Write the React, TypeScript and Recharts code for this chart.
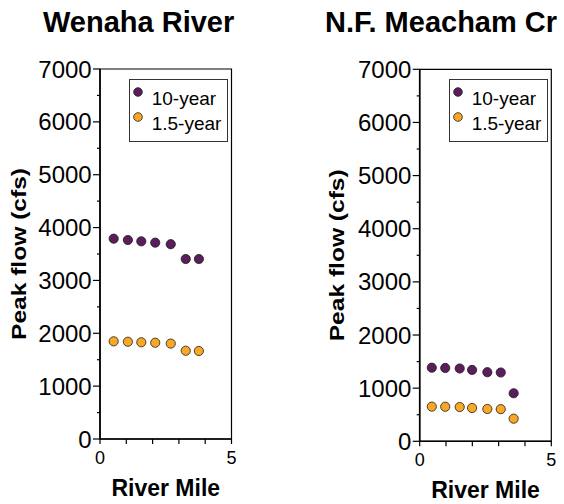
import React from "react";
import {
  ScatterChart,
  Scatter,
  XAxis,
  YAxis,
  Legend,
  Label,
  ReferenceArea,
} from "recharts";

const FONT = "'Liberation Sans', Arial, Helvetica, sans-serif";
const PURPLE = "#5c1d5c";
const ORANGE = "#f9a826";

// river mile of each site, peak flows in cfs
const wenahaMiles = [0.52, 1.06, 1.57, 2.1, 2.69, 3.26, 3.76];
const wenaha10yr = [3790, 3765, 3740, 3715, 3685, 3405, 3405];
const wenaha15yr = [1848, 1840, 1830, 1822, 1805, 1670, 1665];

const meachamMiles = [0.46, 0.97, 1.52, 1.99, 2.57, 3.08, 3.57];
const meacham10yr = [1385, 1380, 1370, 1343, 1300, 1295, 904];
const meacham15yr = [652, 650, 645, 627, 608, 605, 426];

const seriesNames = ["10-year", "1.5-year"];
const yTicks = [0, 500, 1000, 1500, 2000, 2500, 3000, 3500, 4000, 4500, 5000, 5500, 6000, 6500, 7000];
const xTicks = [0, 1, 2, 3, 4, 5];

const toPoints = (xs: number[], ys: number[]) => xs.map((x, i) => ({ x, y: ys[i] }));

const YTick = (props: any) => {
  const { x, y, payload } = props;
  const major = payload.value % 1000 === 0;
  return (
    <g>
      <line x1={x - (major ? 7 : 3)} x2={x} y1={y} y2={y} stroke="#000" strokeWidth={1.2} />
      {major && (
        <text x={x - 8.3} y={y + 8.6} textAnchor="end" fontSize={24} fontFamily={FONT} fill="#000">
          {payload.value}
        </text>
      )}
    </g>
  );
};

const XTick = (props: any) => {
  const { x, y, payload } = props;
  const labelled = payload.value === 0 || payload.value === 5;
  return (
    <g>
      <line x1={x} x2={x} y1={y} y2={y + 5} stroke="#000" strokeWidth={1.2} />
      {labelled && (
        <text x={x} y={y + 25} textAnchor="middle" fontSize={18} fontFamily={FONT} fill="#000">
          {payload.value}
        </text>
      )}
    </g>
  );
};

const dot = (fill: string) => (p: any) => (
  <circle cx={p.cx} cy={p.cy} r={4.6} fill={fill} stroke="#1a1a1a" strokeWidth={0.8} />
);

const renderLegend = (props: any) => {
  const entries = [...(props.payload || [])].sort(
    (a: any, b: any) => seriesNames.indexOf(a.value) - seriesNames.indexOf(b.value)
  );
  return (
    <svg width={99} height={63} style={{ display: "block" }}>
      <rect x={0.5} y={0.5} width={98} height={62} fill="#fff" stroke="#333" strokeWidth={1} />
      {entries.map((e: any, i: number) => (
        <g key={e.value}>
          <circle cx={9} cy={13 + 25 * i} r={4.3} fill={e.color} stroke="#1a1a1a" strokeWidth={0.8} />
          <text x={22.7} y={26 + 25 * i} fontSize={19} fontFamily={FONT} fill="#000">
            {e.value}
          </text>
        </g>
      ))}
    </svg>
  );
};

type PanelProps = {
  title: string;
  left: number;
  miles: number[];
  flow10: number[];
  flow15: number[];
  margin: { top: number; right: number; bottom: number; left: number };
  yAxisWidth: number;
  xAxisHeight: number;
  yLabelX: number;
  legendLeft: number;
  legendTop: number;
};

function Panel(p: PanelProps) {
  const yLabel = (lp: any) => {
    const vb = lp.viewBox;
    const cy = vb.y + vb.height / 2;
    const cx = vb.x + p.yLabelX;
    return (
      <text
        x={cx}
        y={cy}
        transform={`rotate(-90, ${cx}, ${cy})`}
        textAnchor="middle"
        dominantBaseline="central"
        fontSize={21}
        fontWeight="bold"
        fontFamily={FONT}
        textLength={172}
        lengthAdjust="spacingAndGlyphs"
        fill="#000"
      >
        Peak flow (cfs)
      </text>
    );
  };
  const xLabel = (lp: any) => {
    const vb = lp.viewBox;
    return (
      <text
        x={vb.x + vb.width / 2}
        y={vb.y + 57}
        textAnchor="middle"
        fontSize={23}
        fontWeight="bold"
        fontFamily={FONT}
        fill="#000"
      >
        River Mile
      </text>
    );
  };

  return (
    <div style={{ position: "absolute", left: p.left, top: 0, width: 282, height: 504 }}>
      <div
        style={{
          position: "absolute",
          left: 43,
          top: 5,
          fontFamily: FONT,
          fontWeight: "bold",
          fontSize: 29,
          lineHeight: "34px",
          whiteSpace: "nowrap",
        }}
      >
        {p.title}
      </div>
      <ScatterChart width={282} height={504} margin={p.margin}>
        <XAxis
          type="number"
          dataKey="x"
          domain={[0, 5]}
          ticks={xTicks}
          interval={0}
          tickSize={0}
          tickMargin={0}
          tick={<XTick />}
          height={p.xAxisHeight}
          axisLine={{ stroke: "#000", strokeWidth: 1.6 }}
          tickLine={false}
        >
          <Label content={xLabel} />
        </XAxis>
        <YAxis
          type="number"
          dataKey="y"
          domain={[0, 7000]}
          ticks={yTicks}
          interval={0}
          tickSize={0}
          tickMargin={0}
          tick={<YTick />}
          width={p.yAxisWidth}
          axisLine={{ stroke: "#000", strokeWidth: 1.6 }}
          tickLine={false}
        >
          <Label content={yLabel} />
        </YAxis>
        <ReferenceArea
          x1={0}
          x2={5}
          y1={0}
          y2={7000}
          fill="none"
          fillOpacity={0}
          stroke="#000"
          strokeWidth={1.2}
          ifOverflow="visible"
        />
        <Legend
          layout="vertical"
          align="center"
          verticalAlign="middle"
          content={renderLegend}
          wrapperStyle={{ left: p.legendLeft, top: p.legendTop, width: 99, height: 63 }}
        />
        <Scatter
          name={seriesNames[0]}
          data={toPoints(p.miles, p.flow10)}
          fill={PURPLE}
          shape={dot(PURPLE)}
          isAnimationActive={false}
        />
        <Scatter
          name={seriesNames[1]}
          data={toPoints(p.miles, p.flow15)}
          fill={ORANGE}
          shape={dot(ORANGE)}
          isAnimationActive={false}
        />
      </ScatterChart>
    </div>
  );
}

export default function App() {
  return (
    <div
      style={{
        position: "absolute",
        left: 0,
        top: 0,
        width: 564,
        height: 504,
        overflow: "hidden",
        background: "#fff",
      }}
    >
      <Panel
        title="Wenaha River"
        left={0}
        miles={wenahaMiles}
        flow10={wenaha10yr}
        flow15={wenaha15yr}
        margin={{ top: 69, right: 50.5, bottom: 0, left: 0 }}
        yAxisWidth={100}
        xAxisHeight={65}
        yLabelX={18.5}
        legendLeft={129}
        legendTop={79}
      />
      <Panel
        title="N.F. Meacham Cr"
        left={282}
        miles={meachamMiles}
        flow10={meacham10yr}
        flow15={meacham15yr}
        margin={{ top: 69.3, right: 12.7, bottom: 0, left: 0 }}
        yAxisWidth={137.7}
        xAxisHeight={62.7}
        yLabelX={55}
        legendLeft={166.7}
        legendTop={79.3}
      />
    </div>
  );
}
